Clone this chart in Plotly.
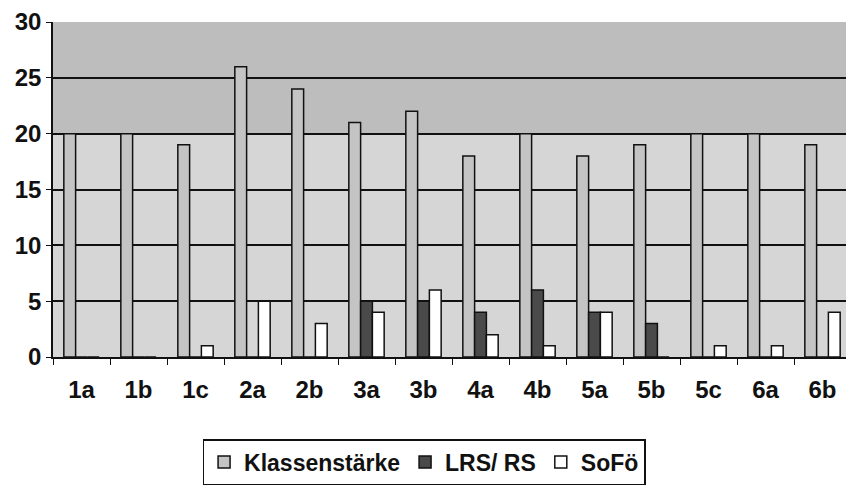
import plotly.graph_objects as go

categories = ["1a", "1b", "1c", "2a", "2b", "3a", "3b", "4a", "4b", "5a", "5b", "5c", "6a", "6b"]
klassenstaerke = [20, 20, 19, 26, 24, 21, 22, 18, 20, 18, 19, 20, 20, 19]
lrs_rs = [0, 0, 0, 0, 0, 5, 5, 4, 6, 4, 3, 0, 0, 0]
sofoe = [0, 0, 1, 5, 3, 4, 6, 2, 1, 4, 0, 1, 1, 4]

font = dict(family="Liberation Sans, Arial, sans-serif", color="#111111", weight="bold")

fig = go.Figure()
fig.add_trace(go.Bar(name="Klassenstärke", x=categories, y=klassenstaerke,
                     marker=dict(color="#c4c4c4", line=dict(color="#111111", width=1.5))))
fig.add_trace(go.Bar(name="LRS/ RS", x=categories, y=lrs_rs,
                     marker=dict(color="#4a4a4a", line=dict(color="#111111", width=1.5))))
fig.add_trace(go.Bar(name="SoFö", x=categories, y=sofoe,
                     marker=dict(color="#ffffff", line=dict(color="#111111", width=1.5))))

# darker upper band of the back wall
fig.add_shape(type="rect", xref="paper", yref="y", x0=0, x1=1, y0=20, y1=30,
              fillcolor="#bdbdbd", line=dict(width=0), layer="below")

# page body has an 8px default margin, so the figure is sized to fit the window
fig.update_layout(
    width=846, height=481,
    margin=dict(l=45, r=3, t=14, b=132, autoexpand=False),
    paper_bgcolor="#ffffff",
    plot_bgcolor="#d6d6d6",
    barmode="group",
    bargap=0.38,
    bargroupgap=0,
    showlegend=True,
    legend=dict(orientation="h", x=0.465, xanchor="center", y=-0.245, yanchor="top",
                bordercolor="#111111", borderwidth=1.5, bgcolor="#ffffff",
                font=dict(size=23, **font), traceorder="normal",
                tracegroupgap=0, valign="middle"),
    xaxis=dict(type="category", showgrid=False, ticks="outside", tickson="boundaries",
               ticklen=6, tickcolor="#111111", showline=True, linecolor="#111111",
               linewidth=1.5, tickfont=dict(size=24, **font), ticklabelstandoff=10),
    yaxis=dict(range=[0, 30], dtick=5, showgrid=True, gridcolor="#111111", gridwidth=1.5,
               ticks="outside", ticklen=5, tickcolor="#111111", showline=True,
               linecolor="#111111", linewidth=1.5, zeroline=False,
               tickfont=dict(size=24, **font)),
)

fig.write_html("out.html")
